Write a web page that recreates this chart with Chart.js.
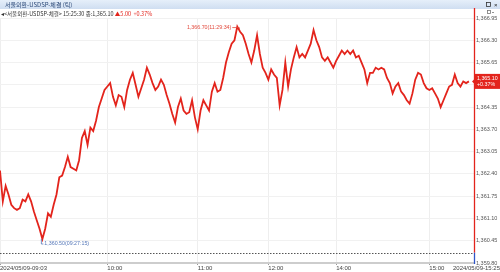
<!DOCTYPE html>
<html>
<head>
<meta charset="utf-8">
<script src="https://cdn.jsdelivr.net/npm/chart.js@4/dist/chart.umd.min.js"></script>
<style>
  html, body { margin: 0; padding: 0; background: #fff; }
  canvas { display: block; }
</style>
</head>
<body>
<canvas id="tickChart" width="500" height="272"></canvas>
<script>
// tick prices, in order (09:03 -> 15:25)
const prices = [
  1362.50, 1361.60, 1362.05, 1361.80, 1361.50, 1361.40, 1361.35, 1361.40, 1361.65, 1361.60,
  1361.80, 1361.60, 1361.30, 1361.05, 1360.80, 1360.50, 1360.80, 1361.25, 1361.15, 1361.50,
  1361.80, 1362.30, 1362.35, 1362.60, 1362.90, 1362.60, 1362.55, 1362.50, 1362.80, 1363.45,
  1363.65, 1363.25, 1363.75, 1363.65, 1363.95, 1364.35, 1364.60, 1364.85, 1364.95,
  1365.05, 1364.65, 1364.40, 1364.70, 1364.65, 1364.35, 1364.85, 1365.15, 1365.35, 1365.00,
  1364.65, 1364.90, 1365.15, 1365.50, 1365.30, 1365.05, 1364.85, 1364.95, 1365.15, 1365.00,
  1364.70, 1364.45, 1364.15, 1363.90, 1364.35, 1364.60, 1364.25, 1364.15, 1364.20, 1364.55,
  1364.05, 1363.70, 1364.25, 1364.55, 1364.40, 1364.25, 1364.80, 1365.05, 1364.80,
  1364.85, 1365.20, 1365.65, 1365.95, 1366.20, 1366.30, 1366.70, 1366.55, 1366.45, 1366.20,
  1365.90, 1365.65, 1366.00, 1366.45, 1365.90, 1365.50, 1365.35, 1365.15, 1365.45, 1365.30,
  1365.20, 1364.40, 1364.85, 1365.65, 1364.95, 1365.45, 1365.80, 1366.10, 1365.80, 1365.90,
  1365.80, 1366.00, 1366.20, 1366.60, 1366.30, 1366.10, 1365.80, 1365.70, 1365.80, 1365.65,
  1365.50, 1365.70, 1365.85,
  1366.00, 1365.90, 1366.00, 1365.90, 1366.00, 1365.80, 1365.85, 1365.65, 1365.45, 1365.05,
  1365.35, 1365.35, 1365.50, 1365.45, 1365.50, 1365.45, 1365.20, 1365.05, 1364.75, 1364.95,
  1365.05, 1364.80, 1364.70, 1364.55, 1364.45, 1364.75, 1365.15, 1365.35, 1365.30, 1365.05,
  1364.90, 1364.85, 1364.90, 1364.75, 1364.60, 1364.35, 1364.55, 1364.75, 1364.95, 1365.00,
  1365.30, 1365.05, 1364.95, 1365.10, 1365.05, 1365.10
];
const yTicks = [1359.80, 1360.45, 1361.10, 1361.75, 1362.40, 1363.05, 1363.70, 1364.35, 1365.00, 1365.65, 1366.30, 1366.95];
const timeTickIndex = [0, 38, 70, 95, 119, 152];
const timeLabels = ["2024/05/09-09:03", "10:00", "11:00", "12:00", "14:00", "15:00"];
const endLabel = "2024/05/09-15:25";
const titleText = "서울외환-USDSP-체결 (틱)";
const infoText = "<서울외환-USDSP-체결> 15:25:30 종:";
const prevClose = 1360.10;
const lastPrice = 1365.10;
const lastChange = 5.00;
const lastPct = 0.37;
const highTime = "11:29:34";
const lowTime = "09:27:15";

const RED = "#e3241c";
const BLUE = "#2f55c6";
const NUM_FONT = '"Liberation Sans", Arial, sans-serif';
const KR_FONT = '"Noto Sans CJK KR", "Liberation Sans", sans-serif';

const fmt = (v) => v.toLocaleString("en-US", { minimumFractionDigits: 2, maximumFractionDigits: 2 });

const decor = {
  id: "decor",
  beforeDraw(chart) {
    const ctx = chart.ctx;
    ctx.save();
    const grad = ctx.createLinearGradient(0, 0, 0, 9);
    grad.addColorStop(0, "#e6effa");
    grad.addColorStop(1, "#cfdef1");
    ctx.fillStyle = grad;
    ctx.fillRect(0, 0, chart.width, 9);
    ctx.textBaseline = "middle";
    ctx.font = "6px " + KR_FONT;
    ctx.fillStyle = "#2b4877";
    ctx.fillText(titleText, 5, 5);
    ctx.fillStyle = "#222";
    ctx.strokeStyle = "#333";
    ctx.lineWidth = 0.8;
    ctx.strokeRect(486.5, 2.5, 4, 4);
    ctx.font = "6px " + NUM_FONT;
    ctx.fillText("×", 494, 5);
    ctx.strokeStyle = "#777";
    ctx.strokeRect(487.5, 10.5, 3, 3);
    ctx.beginPath();
    ctx.moveTo(492, 12.5);
    ctx.lineTo(494, 12.5);
    ctx.stroke();

    // info line
    let x = 1;
    ctx.font = "5.5px " + KR_FONT;
    ctx.fillStyle = "#333";
    ctx.fillText("◂", x, 13.5);
    x += ctx.measureText("◂").width;
    const txt = infoText + fmt(lastPrice) + " ";
    ctx.fillText(txt, x, 13.5);
    x += ctx.measureText(txt).width;
    ctx.fillStyle = RED;
    ctx.fillText("▲" + lastChange.toFixed(2) + "  +" + lastPct.toFixed(2) + "%", x, 13.5);
    ctx.restore();
  },
  beforeDatasetsDraw(chart) {
    const { ctx, chartArea: area, scales: { y } } = chart;
    const yPc = Math.round(y.getPixelForValue(prevClose)) + 0.5;
    ctx.save();
    ctx.strokeStyle = "#555";
    ctx.lineWidth = 1;
    ctx.setLineDash([1.5, 1.5]);
    ctx.beginPath();
    ctx.moveTo(area.left, yPc);
    ctx.lineTo(area.right, yPc);
    ctx.stroke();
    ctx.restore();
  },
  afterDraw(chart) {
    const { ctx, chartArea: area, scales: { x, y } } = chart;
    const axisX = area.right + 0.5;
    const yPc = y.getPixelForValue(prevClose);
    ctx.save();
    ctx.lineWidth = 1.3;
    ctx.strokeStyle = RED;
    ctx.beginPath();
    ctx.moveTo(axisX, 8);
    ctx.lineTo(axisX, yPc);
    ctx.stroke();
    ctx.strokeStyle = BLUE;
    ctx.beginPath();
    ctx.moveTo(axisX, yPc);
    ctx.lineTo(axisX, area.bottom + 1);
    ctx.stroke();

    // high / low markers
    const hi = Math.max(...prices);
    const lo = Math.min(...prices);
    const hx = x.getPixelForValue(prices.indexOf(hi));
    const hy = y.getPixelForValue(hi);
    ctx.font = "5.3px " + NUM_FONT;
    ctx.textBaseline = "middle";
    ctx.fillStyle = "#e2493c";
    ctx.textAlign = "right";
    ctx.fillText(fmt(hi) + "(" + highTime + ")", hx - 6, hy + 1);
    ctx.strokeStyle = "#e2493c";
    ctx.lineWidth = 0.8;
    ctx.beginPath();
    ctx.moveTo(hx - 5, hy + 1);
    ctx.lineTo(hx + 2, hy + 1);
    ctx.lineTo(hx + 2, hy + 3);
    ctx.stroke();

    const lx = x.getPixelForValue(prices.indexOf(lo));
    const ly = y.getPixelForValue(lo);
    ctx.strokeStyle = "#5577b8";
    ctx.beginPath();
    ctx.moveTo(lx - 1, ly);
    ctx.lineTo(lx - 1, ly + 5);
    ctx.lineTo(lx + 1, ly + 5);
    ctx.stroke();
    ctx.fillStyle = "#5577b8";
    ctx.textAlign = "left";
    ctx.fillText(fmt(lo) + "(" + lowTime + ")", lx + 2, ly + 5);

    // last price tag
    const ty = y.getPixelForValue(lastPrice);
    const bx = area.right + 1;
    ctx.fillStyle = RED;
    ctx.fillRect(bx, ty - 7.5, chart.width - bx, 15);
    ctx.beginPath();
    ctx.moveTo(bx, ty - 3);
    ctx.lineTo(bx - 3, ty);
    ctx.lineTo(bx, ty + 3);
    ctx.closePath();
    ctx.fill();
    ctx.fillStyle = "#fff";
    ctx.font = "5.3px " + NUM_FONT;
    ctx.fillText(fmt(lastPrice), bx + 2, ty - 3.3);
    ctx.fillText("+" + lastPct.toFixed(2) + "%", bx + 2, ty + 3.5);

    // end time label
    ctx.fillStyle = "#444";
    ctx.font = "6px " + NUM_FONT;
    ctx.textAlign = "right";
    ctx.textBaseline = "top";
    ctx.fillText(endLabel, chart.width, area.bottom + 2.5);
    ctx.restore();
  }
};

new Chart(document.getElementById("tickChart"), {
  type: "line",
  data: {
    labels: prices.map((_, i) => i),
    datasets: [{
      data: prices,
      borderColor: RED,
      borderWidth: 1.8,
      borderJoinStyle: "miter",
      pointRadius: 0,
      tension: 0,
      fill: false
    }]
  },
  options: {
    responsive: false,
    animation: false,
    devicePixelRatio: 1,
    layout: { padding: { top: 18, left: 0, right: 0, bottom: 0 } },
    plugins: { legend: { display: false }, tooltip: { enabled: false } },
    scales: {
      x: {
        type: "linear",
        bounds: "data",
        min: 0,
        max: 167.8,
        afterBuildTicks: (scale) => { scale.ticks = timeTickIndex.map((v) => ({ value: v })); },
        afterFit: (scale) => { scale.height = 9; },
        grid: { color: "#eeeeee", tickLength: 2, tickColor: "#999" },
        border: { color: "#cdcdcd", width: 2 },
        ticks: {
          autoSkip: false,
          maxRotation: 0,
          align: "start",
          padding: 0,
          color: "#444",
          font: { family: NUM_FONT, size: 6 },
          callback: (v) => timeLabels[timeTickIndex.indexOf(v)] ?? ""
        }
      },
      y: {
        position: "right",
        min: 1359.80,
        max: 1366.95,
        afterBuildTicks: (scale) => { scale.ticks = yTicks.map((v) => ({ value: v })); },
        afterFit: (scale) => { scale.width = 26; },
        grid: { color: "#f1f1f1", drawTicks: false },
        border: { display: false },
        ticks: {
          padding: 2,
          color: "#555",
          font: { family: NUM_FONT, size: 5.5 },
          callback: (v) => fmt(v)
        }
      }
    }
  },
  plugins: [decor]
});
</script>
</body>
</html>
